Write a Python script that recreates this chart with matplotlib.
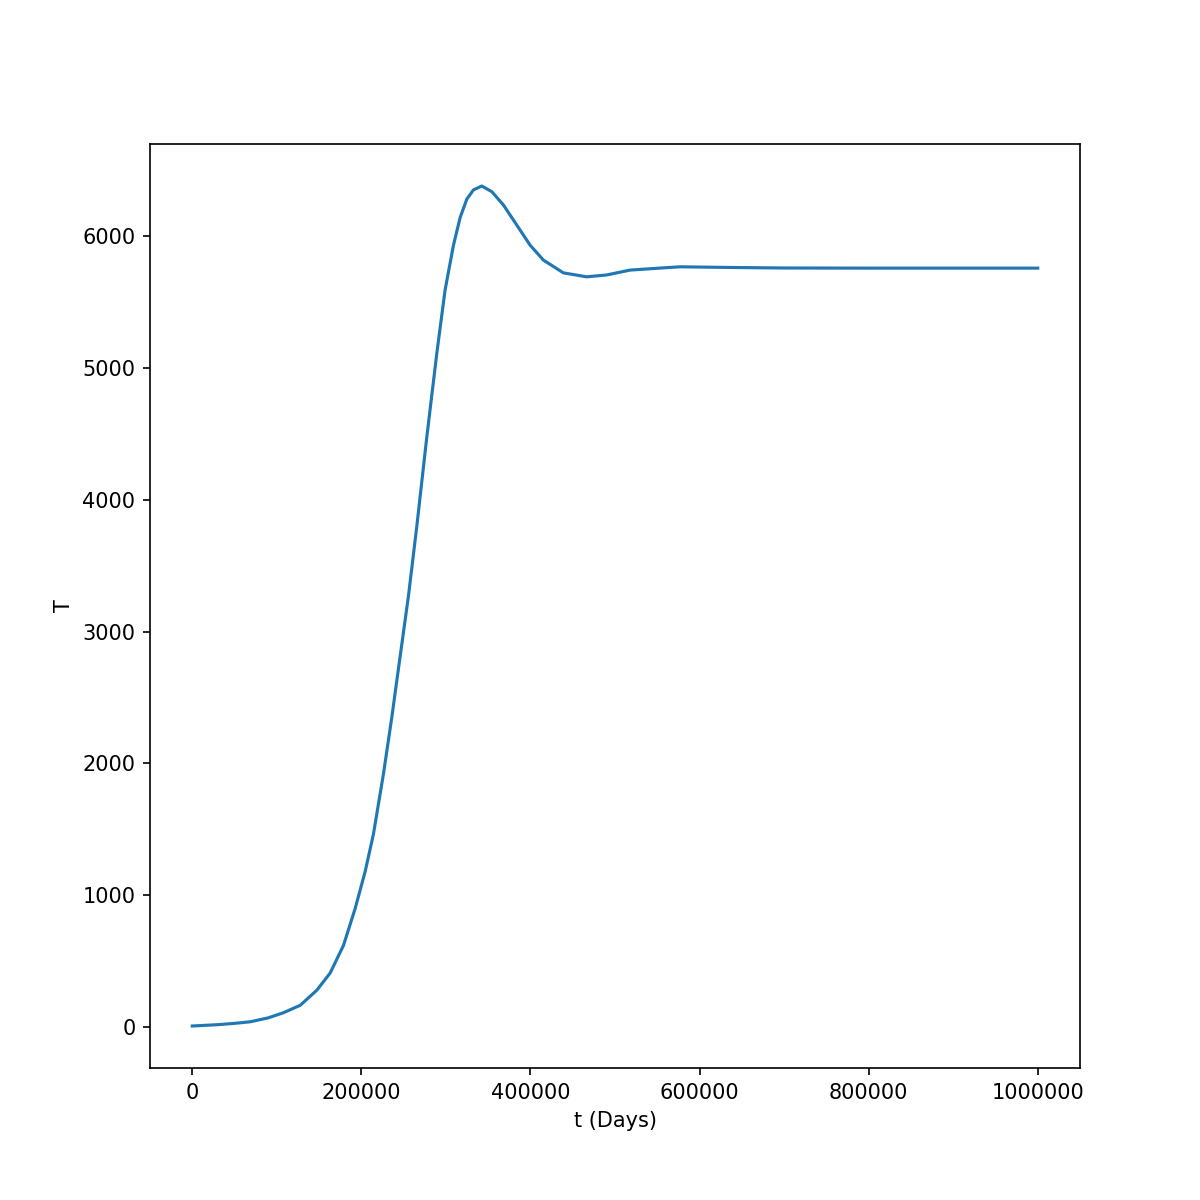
import numpy as np
import matplotlib
matplotlib.use("Agg")
import matplotlib.pyplot as plt

# Values
t_days = np.array([0, 30000, 50000, 68600, 90000, 107900, 127700, 147400, 163100,
                   178900, 192700, 204500, 214300, 226100, 236000, 243900, 255700,
                   265600, 277400, 289200, 299000, 308900, 316800, 324700, 332500,
                   342400, 354300, 368000, 383800, 399500, 415300, 439000, 466500,
                   490000, 517700, 557000, 577000, 636000, 700000, 800000, 900000,
                   1000000])
T_vals = np.array([8, 18, 28, 40, 70, 109, 165, 280, 410,
                   620, 900, 1180, 1464, 1919, 2349, 2720, 3270,
                   3800, 4476, 5109, 5590, 5930, 6140, 6280, 6350,
                   6380, 6337, 6236, 6084, 5932, 5818, 5721, 5691,
                   5705, 5742, 5759, 5767, 5762, 5758, 5757, 5757,
                   5757])

fig, ax = plt.subplots(figsize=(8, 8), dpi=150)
ax.plot(t_days, T_vals)
ax.set_xlabel("t (Days)")
ax.set_ylabel("T")
ax.ticklabel_format(style="plain", axis="x")

plt.savefig("out.png", dpi=150)
